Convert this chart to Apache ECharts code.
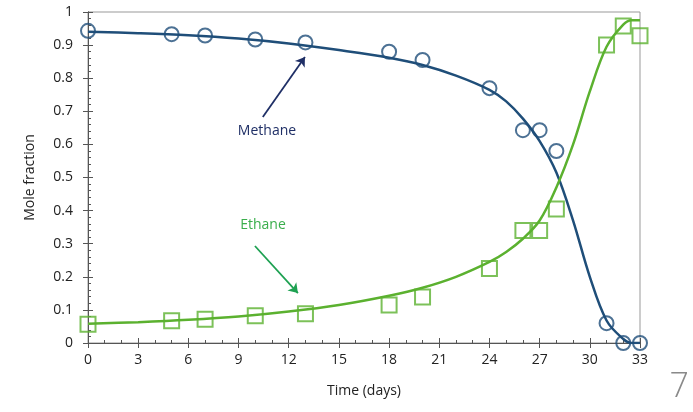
<!DOCTYPE html>
<html>
<head>
<meta charset="utf-8">
<script src="https://cdn.jsdelivr.net/npm/echarts@6/dist/echarts.min.js"></script>
<style>
  html, body { margin: 0; padding: 0; background: #fff; }
  #chart { width: 693px; height: 412px; }
</style>
</head>
<body>
<div id="chart"></div>
<script>
// Measured mole fractions
const obsDays = [0, 5, 7, 10, 13, 18, 20, 24, 26, 27, 28, 31, 32, 33];
const methaneObs = [0.943, 0.933, 0.929, 0.917, 0.908, 0.880, 0.855, 0.770, 0.643, 0.643, 0.580, 0.060, 0.0, 0.0];
const ethaneObs = [0.057, 0.067, 0.072, 0.082, 0.088, 0.115, 0.139, 0.225, 0.340, 0.340, 0.405, 0.900, 0.958, 0.928];

// Fitted model curves
const fitDays = [0, 3, 6, 9, 12, 15, 18, 20, 22, 24, 25, 26, 27, 28, 29, 30, 31, 32, 32.5, 33];
const methaneFit = [0.940, 0.936, 0.930, 0.920, 0.905, 0.885, 0.862, 0.840, 0.808, 0.765, 0.730, 0.678, 0.610, 0.515, 0.370, 0.200, 0.068, 0.012, 0.0, 0.0];
const ethaneFit = [0.058, 0.063, 0.070, 0.080, 0.095, 0.115, 0.143, 0.167, 0.200, 0.245, 0.275, 0.315, 0.370, 0.470, 0.600, 0.760, 0.895, 0.962, 0.975, 0.975];

// Axis ticks
const xTicks = ['0', '3', '6', '9', '12', '15', '18', '21', '24', '27', '30', '33'];
const yTicks = ['0', '0.1', '0.2', '0.3', '0.4', '0.5', '0.6', '0.7', '0.8', '0.9', '1'];

const FONT = 'Open Sans';
const AXIS = '#555';
const METHANE = '#1f4e79';
const ETHANE = '#5bb12f';

const pairs = (xs, ys) => xs.map((x, i) => [x, ys[i]]);

const chart = echarts.init(document.getElementById('chart'), null, { renderer: 'canvas' });

const xBase = {
  type: 'value', min: 0, max: 33, interval: 3,
  axisLine: { lineStyle: { color: AXIS, width: 1 } },
  splitLine: { show: false }
};
const yBase = {
  type: 'value', min: 0, max: 1, interval: 0.1,
  axisLine: { lineStyle: { color: AXIS, width: 1 } },
  splitLine: { show: false }
};

// Callout arrow drawn in data space
const arrow = (from, to, color) => ({
  silent: true,
  symbol: ['none', 'arrow'],
  symbolSize: 9,
  lineStyle: { color: color, width: 1.8, type: 'solid' },
  itemStyle: { color: color },
  label: { show: false },
  emphasis: { disabled: true },
  data: [[{ coord: from }, { coord: to }]]
});

const callout = (text, at, color) => ({
  silent: true, symbol: 'circle', symbolSize: 0,
  itemStyle: { color: 'rgba(0,0,0,0)' },
  label: { show: true, formatter: text, color: color, fontFamily: FONT, fontSize: 14, position: 'inside' },
  data: [{ coord: at }]
});

chart.setOption({
  animation: false,
  textStyle: { fontFamily: FONT },
  grid: {
    left: 88, right: 53, top: 12, bottom: 69,
    show: true, borderColor: '#999', borderWidth: 1, backgroundColor: 'transparent'
  },
  xAxis: [
    Object.assign({}, xBase, {
      name: 'Time (days)', nameLocation: 'middle', nameGap: 41,
      nameTextStyle: { fontFamily: FONT, fontSize: 14, color: '#222' },
      axisTick: { show: true, inside: false, length: 5, lineStyle: { color: AXIS } },
      axisLabel: {
        fontFamily: FONT, fontSize: 14, color: '#222', margin: 10,
        formatter: v => xTicks[Math.round(v / 3)] ?? ''
      }
    }),
    Object.assign({}, xBase, {
      position: 'bottom',
      axisTick: { show: true, inside: true, length: 5, lineStyle: { color: AXIS } },
      minorTick: { show: true, splitNumber: 3, length: 3, lineStyle: { color: AXIS } },
      axisLabel: { show: false }
    })
  ],
  yAxis: [
    Object.assign({}, yBase, {
      name: 'Mole fraction', nameLocation: 'middle', nameGap: 51, nameRotate: 90,
      nameTextStyle: { fontFamily: FONT, fontSize: 14, color: '#222' },
      axisTick: { show: true, inside: false, length: 5, lineStyle: { color: AXIS } },
      axisLabel: {
        fontFamily: FONT, fontSize: 14, color: '#222', margin: 15,
        formatter: v => yTicks[Math.round(v * 10)] ?? ''
      }
    }),
    Object.assign({}, yBase, {
      position: 'left',
      axisTick: { show: true, inside: true, length: 5, lineStyle: { color: AXIS } },
      minorTick: { show: true, splitNumber: 5, length: 3, lineStyle: { color: AXIS } },
      axisLabel: { show: false }
    })
  ],
  series: [
    {
      name: 'Methane fit', type: 'line', smooth: 0.35, showSymbol: false,
      data: pairs(fitDays, methaneFit),
      lineStyle: { color: METHANE, width: 2.5 },
      markLine: arrow([10.45, 0.683], [12.97, 0.864], '#1f2f66'),
      markPoint: callout('Methane', [10.7, 0.64], '#1f2f66'),
      z: 2
    },
    {
      name: 'Ethane fit', type: 'line', smooth: 0.35, showSymbol: false,
      data: pairs(fitDays, ethaneFit),
      lineStyle: { color: ETHANE, width: 2.5 },
      markLine: arrow([9.98, 0.293], [12.55, 0.151], '#1ea152'),
      markPoint: callout('Ethane', [10.46, 0.356], '#3aae4c'),
      z: 2
    },
    {
      name: 'Methane', type: 'scatter', symbol: 'circle', symbolSize: 14,
      data: pairs(obsDays, methaneObs),
      itemStyle: { color: 'rgba(255,255,255,0)', borderColor: METHANE, borderWidth: 2 },
      z: 3
    },
    {
      name: 'Ethane', type: 'scatter', symbol: 'rect', symbolSize: 15,
      data: pairs(obsDays, ethaneObs),
      itemStyle: { color: 'rgba(255,255,255,0)', borderColor: ETHANE, borderWidth: 2 },
      z: 3
    }
  ],
  graphic: [
    {
      type: 'text', right: 4, bottom: 8,
      style: { text: '7', fontFamily: FONT, fontSize: 34, fontWeight: 300, fill: '#8a8a8a' }
    }
  ]
});
</script>
</body>
</html>
